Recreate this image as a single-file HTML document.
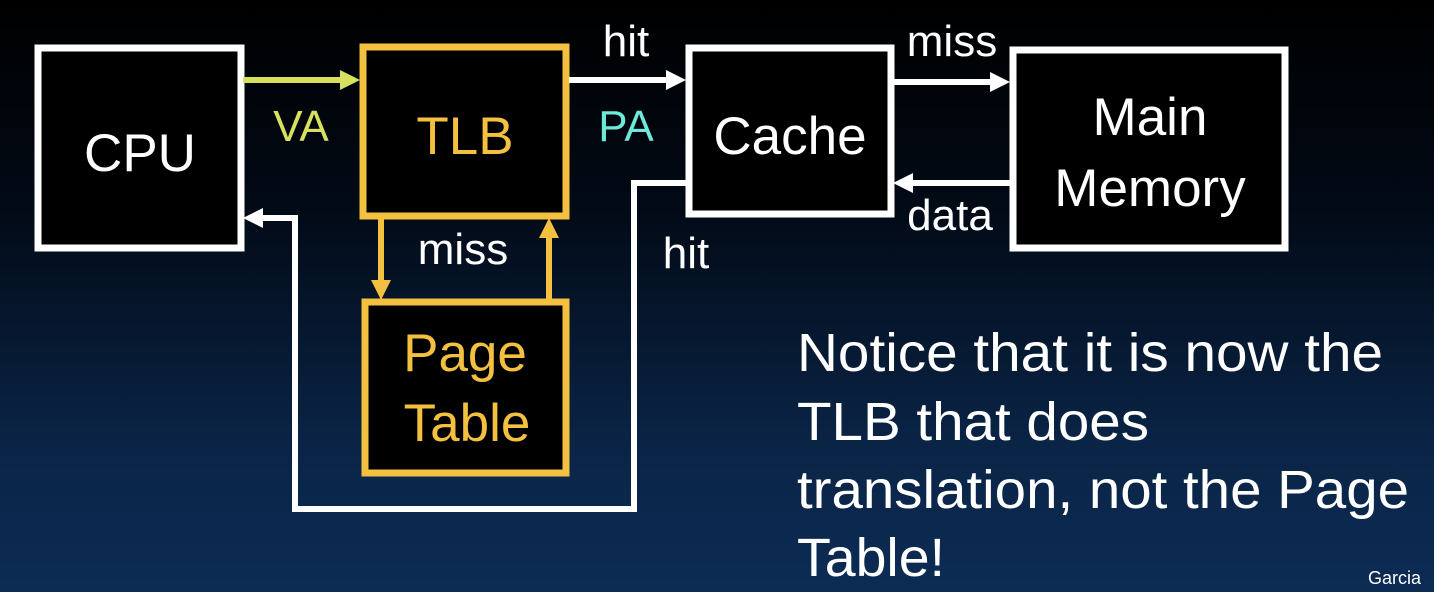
<!DOCTYPE html>
<html><head><meta charset="utf-8"><style>
html,body{margin:0;padding:0;}
body{width:1434px;height:592px;overflow:hidden;background:linear-gradient(180deg,#000 0%,#020a16 35%,#0a2446 75%,#0c2c54 100%);}
svg{position:absolute;left:0;top:0;}
text{font-family:"Liberation Sans",sans-serif;}
</style></head><body>
<svg width="1434" height="592" viewBox="0 0 1434 592">
<g stroke-width="7" fill="#000">
<rect x="38" y="48" width="203" height="200" stroke="#fff"/>
<rect x="363" y="47" width="203" height="169" stroke="#f3c040"/>
<rect x="365" y="302" width="201" height="171" stroke="#f3c040"/>
<rect x="689" y="48" width="202" height="166" stroke="#fff"/>
<rect x="1013" y="50" width="272" height="198" stroke="#fff"/>
</g>
<g fill="none" stroke-width="6">
<line x1="243" y1="80" x2="345" y2="80" stroke="#d8e060"/>
<line x1="569" y1="80" x2="670" y2="80" stroke="#fff"/>
<line x1="894" y1="82" x2="995" y2="82" stroke="#fff"/>
<line x1="1010" y1="183" x2="908" y2="183" stroke="#fff"/>
<polyline points="686,183 634,183 634,509 295,509 295,218 258,218" stroke="#fff"/>
<line x1="381" y1="218" x2="381" y2="285" stroke="#f3c040"/>
<line x1="549" y1="300" x2="549" y2="233" stroke="#f3c040"/>
</g>
<g>
<polygon points="360,80 340,70 340,90" fill="#d8e060"/>
<polygon points="686,80 666,70 666,90" fill="#fff"/>
<polygon points="1010,82 990,72 990,92" fill="#fff"/>
<polygon points="893,183 913,173 913,193" fill="#fff"/>
<polygon points="243,218 263,208 263,228" fill="#fff"/>
<polygon points="381,300 371,280 391,280" fill="#f3c040"/>
<polygon points="549,218 539,238 559,238" fill="#f3c040"/>
</g>
<g font-size="53" text-anchor="middle" fill="#fff">
<text x="140" y="171">CPU</text>
<text x="465" y="154" fill="#f3c040">TLB</text>
<text x="465" y="371" fill="#f3c040">Page</text>
<text x="467" y="441" fill="#f3c040">Table</text>
<text x="790" y="154">Cache</text>
<text x="1150" y="135">Main</text>
<text x="1150" y="206">Memory</text>
</g>
<g font-size="44" text-anchor="middle" fill="#fff">
<text x="301" y="141" fill="#d8e060">VA</text>
<text x="626" y="141" fill="#6ee8d8">PA</text>
<text x="626" y="56">hit</text>
<text x="952" y="56">miss</text>
<text x="950" y="230">data</text>
<text x="686" y="268">hit</text>
<text x="463" y="264">miss</text>
</g>
<g font-size="54" fill="#fff">
<text x="797" y="371" textLength="586" lengthAdjust="spacingAndGlyphs">Notice that it is now the</text>
<text x="797" y="440" textLength="352" lengthAdjust="spacingAndGlyphs">TLB that does</text>
<text x="797" y="508" textLength="612" lengthAdjust="spacingAndGlyphs">translation, not the Page</text>
<text x="797" y="576" textLength="148" lengthAdjust="spacingAndGlyphs">Table!</text>
</g>
<text x="1368" y="584" font-size="18" fill="#fff">Garcia</text>
</svg>
</body></html>
